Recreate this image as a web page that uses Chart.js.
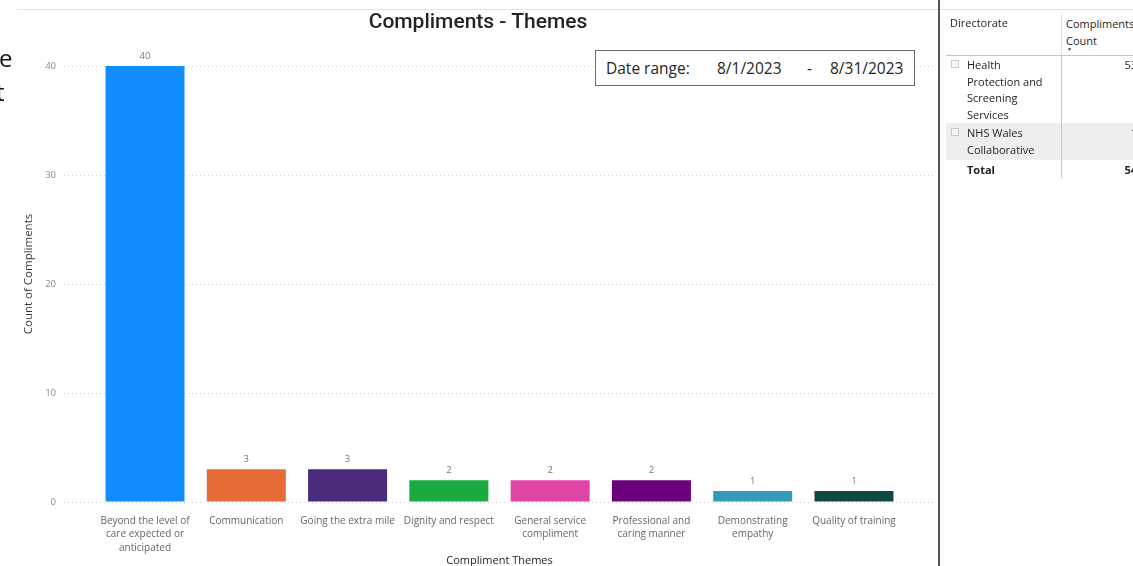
<!DOCTYPE html>
<html>
<head>
<meta charset="utf-8">
<title>Compliments - Themes</title>
<script src="https://cdn.jsdelivr.net/npm/chart.js@4.4.1/dist/chart.umd.min.js"></script>
<style>
  html, body { margin: 0; padding: 0; background: #fff; }
  body { width: 1133px; height: 566px; overflow: hidden; position: relative; font-family: "Open Sans", "Noto Sans", sans-serif; color: #252423; }
  .abs { position: absolute; white-space: nowrap; }
  #chartBox { position: absolute; left: 0; top: 0; width: 938px; height: 566px; overflow: hidden; }
  .topline { position: absolute; left: 17px; top: 9px; width: 1116px; height: 1px; background: #e3e3e3; }
  .sep { position: absolute; left: 938px; top: 0; width: 2px; height: 566px; background: #555; }
  .clip { position: absolute; font-size: 24px; color: #111; line-height: 1; z-index: 2; }
  .title { position: absolute; left: 0; width: 956px; top: 9px; text-align: center; font-family: Roboto, sans-serif; font-weight: 500; font-size: 21px; color: #252423; }
  .ytitle { position: absolute; left: 27px; top: 274px; transform: translate(-50%, -50%) rotate(-90deg); font-size: 11.5px; color: #3b3a39; white-space: nowrap; }
  .datebox { position: absolute; left: 595px; top: 50px; width: 318px; height: 34px; border: 1px solid #6b6b6b; background: #fff; font-size: 15.5px; color: #252423; }
  .datebox span { position: absolute; top: 6px; white-space: nowrap; }
  .tbl { font-size: 11px; color: #252423; line-height: 16.5px; }
  .hline { position: absolute; height: 1px; }
  .vline { position: absolute; width: 1px; }
  .expander { position: absolute; width: 6px; height: 6px; border: 1px solid #c8c8c8; background: #f4f4f4; }
</style>
</head>
<body>
<div class="topline"></div>

<div id="chartBox"><canvas id="chart" width="938" height="567"></canvas></div>
<div class="clip" style="left:-1px;top:46px;">e</div>
<div class="clip" style="left:-4px;top:80px;">t</div>
<div class="title">Compliments - Themes</div>
<div class="ytitle">Count of Compliments</div>

<div class="datebox">
  <span style="left:10px;">Date range:</span>
  <span style="left:121px;">8/1/2023</span>
  <span style="left:211px;">-</span>
  <span style="left:234px;">8/31/2023</span>
</div>

<div class="sep"></div>

<!-- Directorate summary table -->
<div id="table"></div>

<script>
// Compliment themes and their counts
const categories = [
  "Beyond the level of care expected or anticipated",
  "Communication",
  "Going the extra mile",
  "Dignity and respect",
  "General service compliment",
  "Professional and caring manner",
  "Demonstrating empathy",
  "Quality of training"
];
const tickLabels = [
  ["Beyond the level of", "care expected or", "anticipated"],
  ["Communication"],
  ["Going the extra mile"],
  ["Dignity and respect"],
  ["General service", "compliment"],
  ["Professional and", "caring manner"],
  ["Demonstrating", "empathy"],
  ["Quality of training"]
];
const complimentCounts = [40, 3, 3, 2, 2, 2, 1, 1];
const barColors = ["#118DFF", "#E66C37", "#4B2C7C", "#1AAB40", "#E044A7", "#6B007B", "#3599B8", "#0E4A42"];
const yTicks = [0, 10, 20, 30, 40];

// Directorate table
const directorates = [["Health", "Protection and", "Screening", "Services"], ["NHS Wales", "Collaborative"]];
const directorateCounts = [53, 1];
const totalCount = 54;

const FONT = '"Open Sans", "Noto Sans", sans-serif';

// value labels above each bar
const barValueLabels = {
  id: 'barValueLabels',
  afterDatasetsDraw(chart) {
    const ctx = chart.ctx;
    const meta = chart.getDatasetMeta(0);
    ctx.save();
    ctx.font = '9.5px ' + FONT;
    ctx.fillStyle = '#777';
    ctx.textAlign = 'center';
    ctx.textBaseline = 'bottom';
    meta.data.forEach((bar, i) => {
      ctx.fillText(String(complimentCounts[i]), bar.x, bar.y - 5);
    });
    ctx.restore();
  }
};

new Chart(document.getElementById('chart'), {
  type: 'bar',
  data: {
    datasets: [{
      label: 'Count of Compliments',
      data: complimentCounts.map((v, i) => ({ x: i, y: v })),
      backgroundColor: barColors,
      borderWidth: 0,
      categoryPercentage: 1,
      barPercentage: 0.78
    }]
  },
  options: {
    responsive: false,
    devicePixelRatio: 1,
    animation: false,
    layout: { padding: { left: 0, right: 3, top: 66, bottom: 0 } },
    plugins: { legend: { display: false }, tooltip: { enabled: false } },
    scales: {
      x: {
        type: 'linear',
        offset: false,
        min: -0.8,
        max: 7.8,
        afterBuildTicks(scale) { scale.ticks = categories.map((_, i) => ({ value: i })); },
        afterFit(scale) { scale.height = 65; },
        ticks: {
          autoSkip: false,
          maxRotation: 0,
          minRotation: 0,
          padding: 4,
          color: '#666',
          font: { family: FONT, size: 10, lineHeight: 1.35 },
          callback: (value) => tickLabels[value]
        },
        grid: { display: false },
        border: { display: false },
        title: {
          display: true,
          text: 'Compliment Themes',
          color: '#252423',
          font: { family: FONT, size: 11 },
          padding: 0
        }
      },
      y: {
        min: 0,
        max: 40,
        afterBuildTicks(scale) { scale.ticks = yTicks.map(v => ({ value: v })); },
        afterFit(scale) { scale.width = 64; },
        ticks: {
          padding: 8,
          color: '#888',
          font: { family: FONT, size: 9.5 }
        },
        grid: { color: '#cfcfcf', lineWidth: 1, drawTicks: false },
        border: { display: false, dash: [1, 3] },
        title: { display: false }
      }
    }
  },
  plugins: [barValueLabels]
});

// build the directorate table
(function buildTable() {
  const t = document.getElementById('table');
  const add = (html, style, cls) => {
    const d = document.createElement('div');
    d.className = 'abs ' + (cls || '');
    d.style.cssText = style;
    d.innerHTML = html;
    t.appendChild(d);
    return d;
  };
  // row 2 shading
  add('', 'left:946px;top:123px;width:187px;height:37px;background:#eeeeee;');
  // header
  add('Directorate', 'left:950px;top:15px;', 'tbl');
  add('Compliments<br>Count', 'left:1066px;top:15px;line-height:17px;', 'tbl');
  add('&#9660;', 'left:1067px;top:47px;font-size:5px;line-height:5px;color:#333;');
  // column + header lines
  add('', 'left:1061px;top:14px;height:41px;background:#e0e0e0;', 'vline');
  add('', 'left:1061px;top:55px;height:123px;background:#a9cdee;', 'vline');
  add('', 'left:946px;top:55px;width:187px;background:#a9cdee;', 'hline');
  // body rows
  let y = 57;
  directorates.forEach((lines, i) => {
    add('', `left:951px;top:${y + 3}px;`, 'expander');
    add(lines.join('<br>'), `left:967px;top:${y}px;`, 'tbl');
    add(String(directorateCounts[i]), `right:-4px;top:${y}px;text-align:right;`, 'tbl');
    y += lines.length * 16.5 + (i === 0 ? 2 : 4);
  });
  add('Total', `left:967px;top:162px;font-weight:700;`, 'tbl');
  add(String(totalCount), `right:-4px;top:162px;font-weight:700;text-align:right;`, 'tbl');
})();
</script>
</body>
</html>
